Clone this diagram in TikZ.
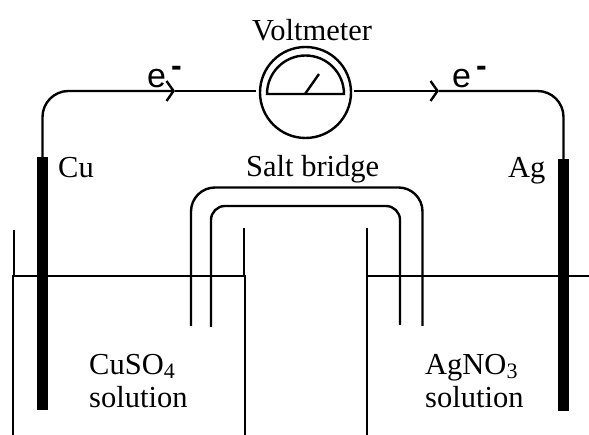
\documentclass[tikz,border=0pt]{standalone}
\usepackage{fontspec}
\setmainfont{Liberation Serif}
\newfontfamily\wirefont{Liberation Sans}
\usetikzlibrary{arrows.meta,positioning}
\definecolor{ink}{RGB}{0,0,0}
\newcommand{\subnum}[1]{\raisebox{-4pt}{\fontsize{22}{22}\selectfont #1}}
\tikzset{
  x=1pt,y=1pt,
  >={Straight Barb[length=7pt,width=20pt,line width=2.4pt]},
  wire/.style={draw=ink,line width=2.4pt},
  glass/.style={draw=ink,line width=2.5pt},
  rod/.style={fill=ink,inner sep=0pt,minimum width=11pt,minimum height=#1},
  rod/.default=253pt,
  dial/.style={circle,draw=ink,line width=2.4pt,inner sep=0pt,minimum size=91pt},
  tag/.style={anchor=base west,inner sep=0pt,text=ink,font=\fontsize{30.5}{33}\selectfont},
  elec/.style={anchor=base west,inner sep=0pt,text=ink,font=\wirefont\fontsize{34}{36}\selectfont},
  minus/.style={elec,font=\wirefont\bfseries\fontsize{32}{34}\selectfont},
}
\begin{document}
\begin{tikzpicture}
  \useasboundingbox (0,0) rectangle (589,435);
  % beakers
  \draw[glass] (14,205) -- (14,159);
  \draw[glass] (13,0) -- (13,159) -- (245,159) -- (245,0);
  \draw[glass] (244,207) -- (244,159);
  \draw[glass] (367,207) -- (367,0);
  \draw[glass] (367,159) -- (589,159);
  % electrodes and meter
  \node[rod] (cu) at (42.5,151.5) {};
  \node[rod=252pt] (ag) at (563.5,150) {};
  \node[dial] (meter) at (305.5,342.5) {};
  \coordinate (dialL) at (267,341);
  \coordinate (dialR) at (344,341);
  \coordinate (pivot) at (305,341);
  \coordinate (needle) at (319,361);
  \draw[wire] (dialL) arc (180:0:38.5) -- cycle;
  \draw[wire] (pivot) -- (needle);
  % wires
  \coordinate (wireL) at (256,344);
  \coordinate (wireR) at (354,344);
  \coordinate (arrowL) at (175,344);
  \coordinate (arrowR) at (439,344);
  \draw[wire,->,rounded corners=26pt] (cu.north) |- (arrowL);
  \draw[wire] (arrowL) -- (wireL);
  \draw[wire,->] (wireR) -- (arrowR);
  \draw[wire,rounded corners=26pt] (arrowR) -| (ag.north);
  % salt bridge
  \coordinate (outerL) at (191,109);
  \coordinate (outerR) at (422.5,109);
  \coordinate (innerL) at (211,108);
  \coordinate (innerR) at (400,110);
  \draw[wire,rounded corners=24pt] (outerL) |- (307,247.5) -| (outerR);
  \draw[wire,rounded corners=14pt] (innerL) |- (305,229) -| (innerR);
  % labels
  \node[tag] (voltLabel) at (252,394) {Voltmeter};
  \node[tag] (saltLabel) at (246,258) {Salt bridge};
  \node[tag] (cuLabel) at (58,257) {Cu};
  \node[tag] (agLabel) at (508,257) {Ag};
  \node[tag] (cuso) at (89,60) {CuSO\subnum{4}};
  \node[tag] (cusoSol) at (89,27) {solution};
  \node[tag] (agno) at (425,60) {AgNO\subnum{3}};
  \node[tag] (agnoSol) at (425,27) {solution};
  \node[elec] (elecL) at (147,347) {e};
  \node[elec] (elecR) at (452,347) {e};
  \node[minus] (minusL) at (171,358) {-};
  \node[minus] (minusR) at (476,358) {-};
\end{tikzpicture}
\end{document}
